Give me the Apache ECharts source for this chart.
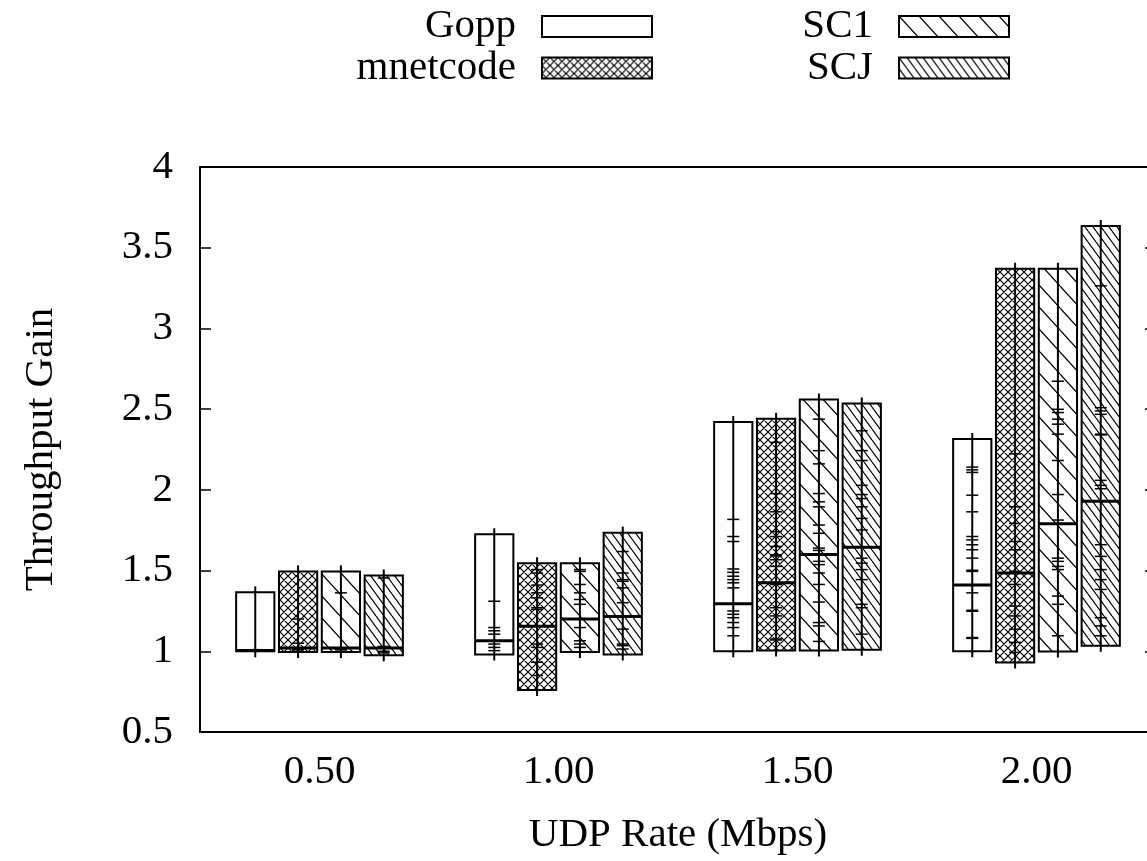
<!DOCTYPE html>
<html>
<head>
<meta charset="utf-8">
<script src="https://cdn.jsdelivr.net/npm/echarts@6/dist/echarts.min.js"></script>
<style>
html, body { margin: 0; padding: 0; background: #fff; overflow: hidden; }
#chart { width: 1200px; height: 861px; }
</style>
</head>
<body>
<div id="chart"></div>
<script>
// x categories (UDP rate)
const rateLabels = ['0.50', '1.00', '1.50', '2.00'];
const methodNames = ['Gopp', 'mnetcode', 'SC1', 'SCJ'];

// box bottom / median / top per rate
const goppLow = [1.00, 0.98, 1.00, 1.00];
const goppMid = [1.005, 1.065, 1.295, 1.41];
const goppHigh = [1.365, 1.725, 2.42, 2.315];
const goppSamples = [
  [1.0, 1.005, 1.01],
  [1.31, 1.147, 1.127, 1.106, 1.045, 1.024, 1.004],
  [1.817, 1.711, 1.68, 1.51, 1.489, 1.465, 1.444, 1.424, 1.393, 1.25, 1.229, 1.208, 1.178, 1.147, 1.096],
  [2.141, 2.124, 2.108, 1.967, 1.864, 1.711, 1.69, 1.66, 1.629, 1.577, 1.502, 1.495, 1.362, 1.254, 1.248, 1.085, 1.08]
];

const mnetLow = [0.995, 0.76, 1.005, 0.93];
const mnetMid = [1.02, 1.155, 1.425, 1.485];
const mnetHigh = [1.495, 1.545, 2.44, 3.37];
const mnetSamples = [
  [1.2, 1.05, 1.015, 1.01, 1.0],
  [1.506, 1.485, 1.41, 1.362, 1.331, 1.27, 1.26, 1.045, 1.024, 0.932, 0.85],
  [2.294, 1.977, 1.864, 1.741, 1.711, 1.649, 1.598, 1.59, 1.567, 1.526, 1.414, 1.27, 1.219, 1.076, 1.07],
  [2.223, 1.895, 1.792, 1.68, 1.629, 1.495, 1.49, 1.414, 1.28, 1.219, 1.137, 1.055, 0.993]
];

const sc1Low = [0.995, 0.995, 1.005, 0.998];
const sc1Mid = [1.02, 1.20, 1.60, 1.79];
const sc1High = [1.495, 1.545, 2.56, 3.37];
const sc1Samples = [
  [1.362, 1.01, 1.0],
  [1.506, 1.495, 1.414, 1.362, 1.321, 1.291, 1.147, 1.065, 1.045, 1.024],
  [2.438, 2.243, 2.161, 1.977, 1.926, 1.895, 1.782, 1.731, 1.639, 1.625, 1.557, 1.537, 1.485, 1.414, 1.305, 1.178, 1.157, 1.061],
  [2.673, 2.499, 2.479, 2.438, 2.407, 2.345, 2.182, 1.971, 1.813, 1.577, 1.557, 1.526, 1.506, 1.342, 1.291, 1.096]
];

const scjLow = [0.975, 0.98, 1.01, 1.035];
const scjMid = [1.02, 1.215, 1.645, 1.93];
const scjHigh = [1.47, 1.735, 2.535, 3.635];
const scjSamples = [
  [1.454, 1.03, 1.0, 0.99],
  [1.618, 1.485, 1.444, 1.434, 1.393, 1.301, 1.137, 1.045, 1.035, 1.014],
  [2.366, 2.243, 2.182, 2.028, 1.971, 1.946, 1.895, 1.823, 1.752, 1.577, 1.546, 1.506, 1.444, 1.291, 1.27, 1.106],
  [3.264, 2.509, 2.489, 2.468, 2.345, 2.34, 2.059, 2.028, 2.007, 1.66, 1.588, 1.506, 1.444, 1.383, 1.208, 1.157, 1.096]
];

const lows = [goppLow, mnetLow, sc1Low, scjLow];
const mids = [goppMid, mnetMid, sc1Mid, scjMid];
const highs = [goppHigh, mnetHigh, sc1High, scjHigh];
const samples = [goppSamples, mnetSamples, sc1Samples, scjSamples];

const FONT = 'Liberation Serif';
const FS = 41;
const groupOffsets = [-0.2688, -0.0896, 0.0896, 0.2688];
const boxWidth = 0.16;

// hatch patterns like gnuplot's fill patterns
function hatch(w, h, dirs) {
  const c = document.createElement('canvas');
  c.width = w; c.height = h;
  const ctx = c.getContext('2d');
  ctx.fillStyle = '#fff';
  ctx.fillRect(0, 0, w, h);
  ctx.strokeStyle = '#000';
  ctx.lineWidth = 1.2;
  ctx.beginPath();
  dirs.forEach(function (d) {
    for (let k = -1; k <= 1; k++) {
      if (d === 'back') { ctx.moveTo(k * w, 0); ctx.lineTo(k * w + w, h); }
      else { ctx.moveTo(k * w + w, 0); ctx.lineTo(k * w, h); }
    }
  });
  ctx.stroke();
  return { image: c, repeat: 'repeat' };
}

const fills = [
  '#fff',
  hatch(8, 8, ['back', 'fwd']),
  hatch(20, 22, ['back']),
  hatch(8, 11, ['back'])
];

function renderBox(k) {
  return function (params, api) {
    const idx = api.value(0);
    const band = api.size([1, 0])[0];
    const pMid = api.coord([idx, api.value(2)]);
    const cx = pMid[0] + groupOffsets[k] * band;
    const half = boxWidth * band / 2;
    const yLow = api.coord([idx, api.value(1)])[1];
    const yHigh = api.coord([idx, api.value(3)])[1];
    const kids = [
      { type: 'rect', shape: { x: cx - half, y: yHigh, width: 2 * half, height: yLow - yHigh },
        style: { fill: fills[k], stroke: '#000', lineWidth: 2 } },
      { type: 'line', shape: { x1: cx, y1: yHigh - 6, x2: cx, y2: yLow + 6 },
        style: { stroke: '#000', lineWidth: 2 } },
      { type: 'line', shape: { x1: cx - half, y1: pMid[1], x2: cx + half, y2: pMid[1] },
        style: { stroke: '#000', lineWidth: 3 } }
    ];
    samples[k][params.dataIndex].forEach(function (v) {
      const y = api.coord([idx, v])[1];
      kids.push({ type: 'line', shape: { x1: cx - 6, y1: y, x2: cx + 6, y2: y },
        style: { stroke: '#000', lineWidth: 1.5 } });
    });
    return { type: 'group', children: kids };
  };
}

const series = methodNames.map(function (name, k) {
  return {
    name: name,
    type: 'custom',
    silent: true,
    itemStyle: { color: fills[k] },
    renderItem: renderBox(k),
    data: rateLabels.map(function (l, i) { return [i, lows[k][i], mids[k][i], highs[k][i]]; })
  };
});

function legendItem(k) {
  return { name: methodNames[k], icon: 'rect',
    itemStyle: { color: fills[k], borderColor: '#000', borderWidth: 2 } };
}
const legendBase = {
  orient: 'vertical', align: 'right', selectedMode: false, padding: 0,
  itemWidth: 110, itemHeight: 21, itemGap: 0.5, top: 6,
  textStyle: { fontFamily: FONT, fontSize: FS, color: '#000', padding: [0, 21, 0, 0] }
};

const axisLineStyle = { color: '#000', width: 2 };
const tickStyle = { color: '#000', width: 1.5 };

const option = {
  animation: false,
  backgroundColor: '#fff',
  legend: [
    Object.assign({}, legendBase, { right: 547, data: [legendItem(0), legendItem(1)] }),
    Object.assign({}, legendBase, { right: 190, data: [legendItem(2), legendItem(3)] })
  ],
  grid: { left: 200, top: 167, width: 956, height: 570 },
  xAxis: [
    {
      type: 'category', data: rateLabels, position: 'bottom',
      axisLine: { lineStyle: axisLineStyle },
      axisTick: { inside: true, alignWithLabel: true, length: 11, lineStyle: tickStyle },
      axisLabel: { fontFamily: FONT, fontSize: FS, color: '#000', margin: 20 },
      name: 'UDP Rate (Mbps)', nameLocation: 'middle', nameGap: 83,
      nameTextStyle: { fontFamily: FONT, fontSize: FS, color: '#000' }
    },
    {
      type: 'category', data: rateLabels, position: 'top',
      axisLine: { lineStyle: axisLineStyle },
      axisTick: { inside: true, alignWithLabel: true, length: 11, lineStyle: tickStyle },
      axisLabel: { show: false }
    }
  ],
  yAxis: [
    {
      type: 'value', min: 0.5, max: 4, interval: 0.5, position: 'left',
      axisLine: { show: true, lineStyle: axisLineStyle },
      axisTick: { show: true, inside: true, length: 11, lineStyle: tickStyle },
      splitLine: { show: false },
      axisLabel: { fontFamily: FONT, fontSize: FS, color: '#000', margin: 27 },
      name: 'Throughput Gain', nameLocation: 'middle', nameGap: 138,
      nameTextStyle: { fontFamily: FONT, fontSize: FS, color: '#000' }
    },
    {
      type: 'value', min: 0.5, max: 4, interval: 0.5, position: 'right',
      axisLine: { show: true, lineStyle: axisLineStyle },
      axisTick: { show: true, inside: true, length: 11, lineStyle: tickStyle },
      splitLine: { show: false },
      axisLabel: { show: false }
    }
  ],
  series: series
};

const chart = echarts.init(document.getElementById('chart'));
chart.setOption(option);
</script>
</body>
</html>
